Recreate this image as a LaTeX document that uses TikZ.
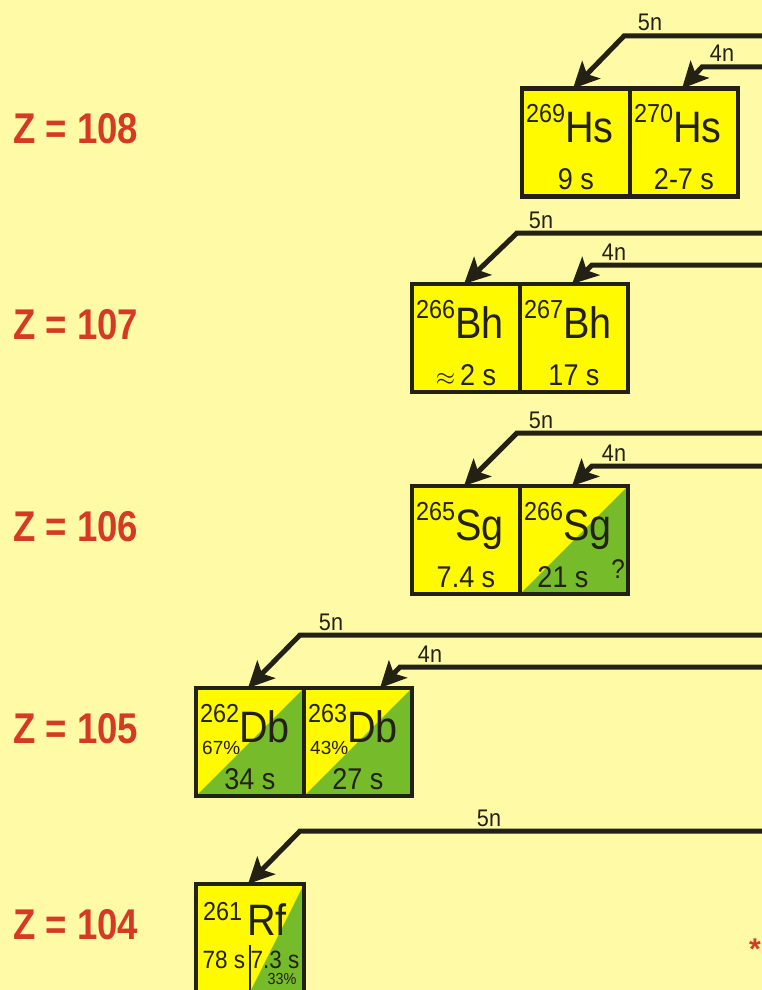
\documentclass[tikz,border=0pt]{standalone}
\usepackage{fontspec}
\setmainfont{Liberation Sans}
\newfontfamily\narrowfont[FakeStretch=0.9]{Liberation Sans}
\newfontfamily\zfont[FakeStretch=0.85]{Liberation Sans}
\usetikzlibrary{arrows.meta,calc}

\definecolor{bg}{RGB}{255,250,165}
\definecolor{boxyel}{RGB}{255,250,0}
\definecolor{boxgrn}{RGB}{118,188,42}
\definecolor{ink}{RGB}{35,33,20}
\definecolor{zred}{RGB}{212,58,36}

% mass number raised in front of the element symbol
\newcommand\massnum[1]{\raisebox{20pt}{\fontsize{26}{26}\selectfont #1}}
\newcommand\elsym[1]{{\fontsize{44}{44}\selectfont #1}}

\tikzset{
  nuc/.style={draw=ink, line width=4.5pt, fill=boxyel, minimum width=108pt,
    minimum height=108pt, inner sep=0pt, outer sep=0pt},
  split/.style={path picture={\fill[boxgrn] (path picture bounding box.north east)
    -- (path picture bounding box.south east) -- (path picture bounding box.south west) -- cycle;}},
  rfsplit/.style={path picture={\fill[boxgrn] (path picture bounding box.north east)
    -- (path picture bounding box.south east) -- (path picture bounding box.south) -- cycle;}},
  iso/.style={anchor=base west, inner sep=0pt, text=ink, font=\narrowfont},
  hl/.style={anchor=base, inner sep=0pt, text=ink, font={\narrowfont\fontsize{30}{30}\selectfont}},
  pct/.style={anchor=base west, inner sep=0pt, text=ink, font={\fontsize{19}{19}\selectfont}},
  chan/.style={anchor=base, inner sep=0pt, text=ink, font={\narrowfont\fontsize{24}{24}\selectfont}},
  zlab/.style={anchor=base west, inner sep=0pt, text=zred, font={\zfont\bfseries\fontsize{43}{43}\selectfont}},
  arr/.style={draw=ink, line width=5pt, -{Stealth[length=26pt,width=25pt,inset=6pt]}},
}

% box with mass number, symbol and half-life
\newcommand\nucbox[7]{%
  \node[nuc,#4] (#1) at (#2,#3) {};
  \node[iso] (#1-id) at ($(#1.center)+(-50,0)$) {\massnum{#5}\elsym{#6}};
  \node[hl] (#1-hl) at ($(#1.center)+(0,47)$) {#7};
}

\begin{document}
\begin{tikzpicture}[x=1pt,y=-1pt]
\useasboundingbox (0,0) rectangle (762,990);
\fill[bg] (0,0) rectangle (762,990);
\clip (0,0) rectangle (762,990);

% element rows
\node[zlab] (z108) at (13,143.5) {Z = 108};
\node[zlab] (z107) at (13,339) {Z = 107};
\node[zlab] (z106) at (13,541) {Z = 106};
\node[zlab] (z105) at (13,743) {Z = 105};
\node[zlab] (z104) at (13,939) {Z = 104};

% Hassium
\nucbox{hs269}{576}{142.5}{}{269}{Hs}{9 s}
\nucbox{hs270}{684}{142.5}{}{270}{Hs}{2-7 s}

% Bohrium
\nucbox{bh266}{466}{338}{}{266}{Bh}{$\approx$\,2 s}
\nucbox{bh267}{574}{338}{}{267}{Bh}{17 s}

% Seaborgium
\nucbox{sg265}{466}{540}{}{265}{Sg}{7.4 s}
\nucbox{sg266}{574}{540}{split}{266}{Sg}{}
\node[hl] (sg266-t) at ($(sg266.center)+(-11,47)$) {21 s};
\node[hl, font={\narrowfont\fontsize{27}{27}\selectfont}] (sg266-q) at ($(sg266.center)+(44,38)$) {?};

% Dubnium
\nucbox{db262}{250}{742}{split}{262}{Db}{34 s}
\nucbox{db263}{358}{742}{split}{263}{Db}{27 s}
\node[pct] (db262-p) at ($(db262.center)+(-48,12)$) {67\%};
\node[pct] (db263-p) at ($(db263.center)+(-48,12)$) {43\%};

% Rutherfordium
\node[nuc,rfsplit] (rf261) at (250,938) {};
\draw[ink, line width=2.2pt] ([yshift=-7pt]rf261.center) -- (rf261.south);
\node[iso] (rf261-m) at ($(rf261.center)+(-47,-18)$) {\fontsize{26}{26}\selectfont 261};
\node[iso] (rf261-s) at ($(rf261.center)+(-3,-3)$) {\fontsize{44}{44}\selectfont Rf};
\node[hl, font={\narrowfont\fontsize{25}{25}\selectfont}] (rf261-a) at ($(rf261.center)+(-26,30)$) {78 s};
\node[hl, font={\narrowfont\fontsize{25}{25}\selectfont}] (rf261-b) at ($(rf261.center)+(25,30)$) {7.3 s};
\node[hl, font={\narrowfont\fontsize{16}{16}\selectfont}] (rf261-c) at ($(rf261.center)+(32,46)$) {33\%};

% evaporation channels
\coordinate (s108a) at (775,36);  \coordinate (k108a) at (624,36);
\coordinate (s108b) at (775,67);  \coordinate (k108b) at (702,67);
\coordinate (s107a) at (775,233); \coordinate (k107a) at (517,233);
\coordinate (s107b) at (775,265); \coordinate (k107b) at (592,265);
\coordinate (s106a) at (775,433); \coordinate (k106a) at (517,433);
\coordinate (s106b) at (775,466); \coordinate (k106b) at (592,466);
\coordinate (s105a) at (775,635); \coordinate (k105a) at (300,635);
\coordinate (s105b) at (775,667); \coordinate (k105b) at (400,667);
\coordinate (s104a) at (775,831); \coordinate (k104a) at (300,831);

\draw[arr] (s108a) -- (k108a) -- ([xshift=-3pt]hs269.north);
\draw[arr] (s108b) -- (k108b) -- ([xshift=-2pt]hs270.north);
\draw[arr] (s107a) -- (k107a) -- ([xshift=-2pt]bh266.north);
\draw[arr] (s107b) -- (k107b) -- ([xshift=-2pt]bh267.north);
\draw[arr] (s106a) -- (k106a) -- ([xshift=-2pt]sg265.north);
\draw[arr] (s106b) -- (k106b) -- ([xshift=-2pt]sg266.north);
\draw[arr] (s105a) -- (k105a) -- ([xshift=-2pt]db262.north);
\draw[arr] (s105b) -- (k105b) -- ([xshift=22pt]db263.north);
\draw[arr] (s104a) -- (k104a) -- ([xshift=-2pt]rf261.north);

\node[chan] (c108a) at (650,31) {5n};
\node[chan] (c108b) at (722,62) {4n};
\node[chan] (c107a) at (541,228) {5n};
\node[chan] (c107b) at (614,260) {4n};
\node[chan] (c106a) at (541,428) {5n};
\node[chan] (c106b) at (614,461) {4n};
\node[chan] (c105a) at (331,630) {5n};
\node[chan] (c105b) at (430,662) {4n};
\node[chan] (c104a) at (489,826) {5n};

% footnote mark
\node[anchor=north east, inner sep=0pt, text=zred, font={\bfseries\fontsize{30}{30}\selectfont}] (mark) at (761,939) {*};
\end{tikzpicture}
\end{document}
